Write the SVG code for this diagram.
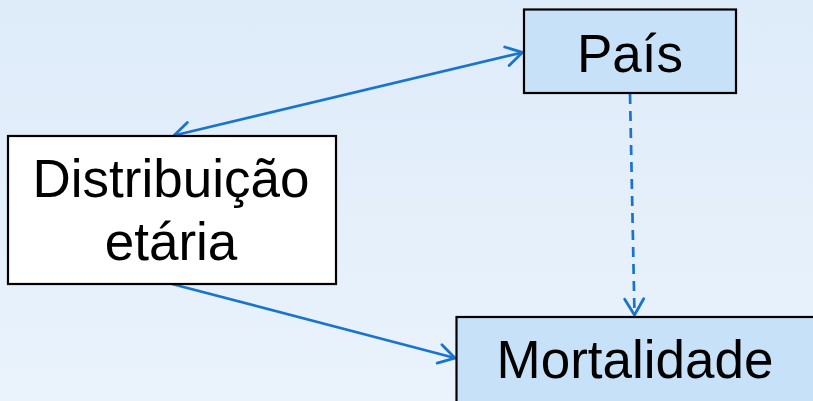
<svg xmlns="http://www.w3.org/2000/svg" width="813" height="401" viewBox="0 0 813 401">
  <defs>
    <linearGradient id="bg" x1="0" y1="0" x2="0" y2="1">
      <stop offset="0" stop-color="#deebf9"/>
      <stop offset="1" stop-color="#eaf3fc"/>
    </linearGradient>
    <marker id="arr" markerUnits="userSpaceOnUse" viewBox="-24 -14 28 28" markerWidth="28" markerHeight="28" refX="0" refY="0" orient="auto-start-reverse" overflow="visible">
      <path d="M-16,-9.5 L0,0 L-16,9.5" fill="none" stroke="#1874cd" stroke-width="2.8" stroke-linecap="round" stroke-linejoin="miter"/>
    </marker>
    <style>
      .box { stroke: #000; stroke-width: 2.2; }
      .blue { fill: #c7e1f9; }
      .white { fill: #ffffff; }
      .lbl { font-family: "Liberation Sans", Arial, sans-serif; font-size: 53px; fill: #000; text-anchor: middle; }
      .conn { fill: none; stroke: #1874cd; stroke-width: 2.7; }
      .dash { stroke-dasharray: 10 7; }
    </style>
  </defs>
  <rect width="813" height="401" fill="url(#bg)"/>
  <g id="connectors">
    <line class="conn" x1="174" y1="135.5" x2="522.5" y2="52.5" marker-start="url(#arr)" marker-end="url(#arr)"/>
    <line class="conn dash" x1="630" y1="94" x2="634.5" y2="315" marker-end="url(#arr)"/>
    <line class="conn" x1="172" y1="284" x2="455" y2="358" marker-end="url(#arr)"/>
  </g>
  <g id="node-pais">
    <rect class="box blue" x="524" y="9.5" width="212" height="83.5"/>
    <text class="lbl" x="630" y="72">País</text>
  </g>
  <g id="node-distribuicao">
    <rect class="box white" x="8" y="136" width="328" height="148"/>
    <text class="lbl" x="171" y="197">Distribuição</text>
    <text class="lbl" x="171" y="260">etária</text>
  </g>
  <g id="node-mortalidade">
    <rect class="box blue" x="456.5" y="317" width="362" height="92"/>
    <text class="lbl" x="635" y="378">Mortalidade</text>
  </g>
</svg>
